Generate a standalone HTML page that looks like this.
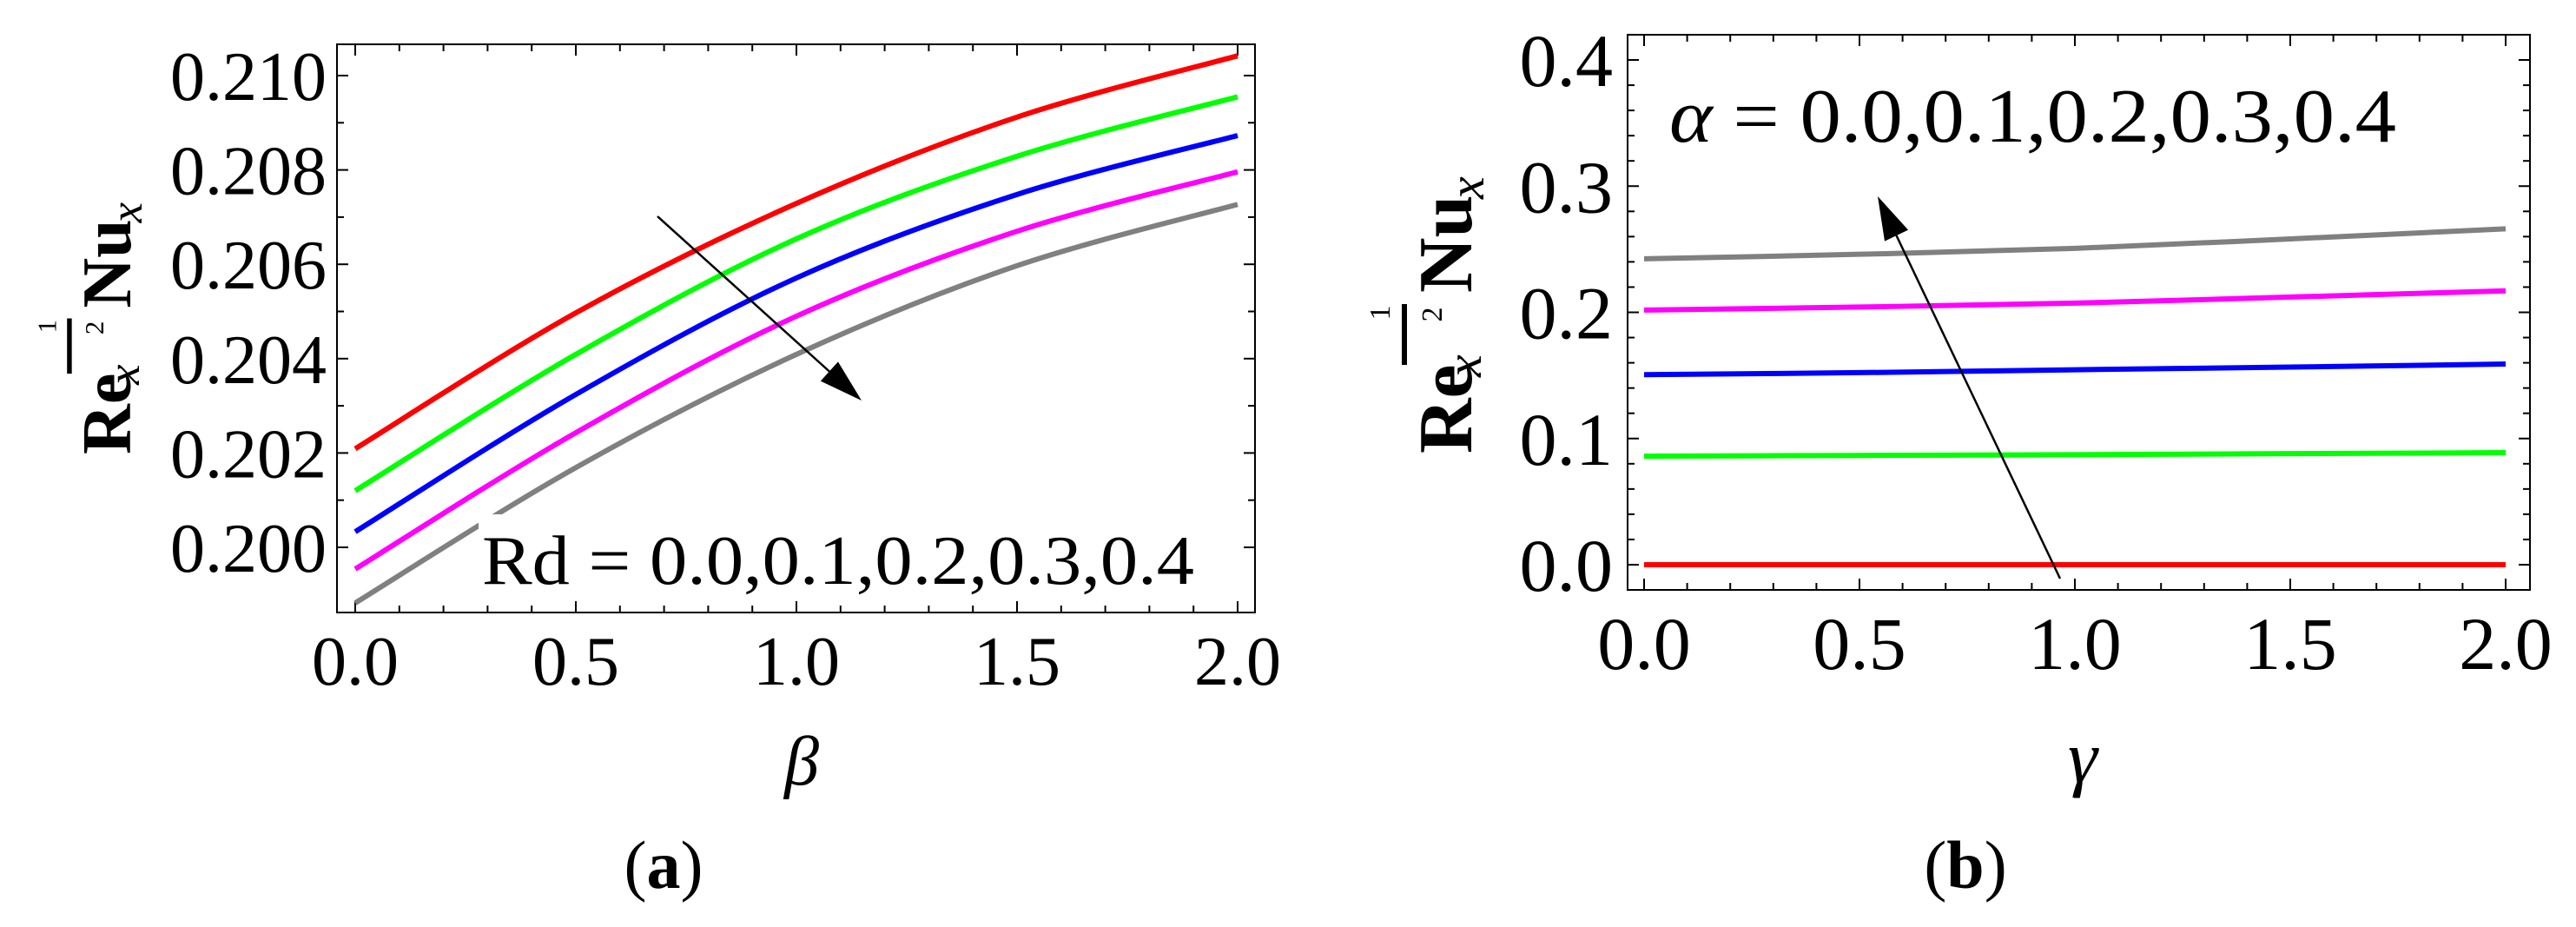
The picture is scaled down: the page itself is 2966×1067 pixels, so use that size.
<!DOCTYPE html>
<html><head><meta charset="utf-8"><style>
html,body{margin:0;padding:0;background:#fff;}
svg{display:block;}
svg text{font-family:"Liberation Serif","Times New Roman",serif;fill:#000;}
</style></head><body>
<svg id="fig" width="2966" height="1067" viewBox="0 0 2966 1067" xmlns="http://www.w3.org/2000/svg" font-family="Liberation Serif, serif">
<g id="pa"></g>
<g id="pb"></g>
</svg>
<script>
const NS="http://www.w3.org/2000/svg";
// Panel (a) data
const aX=[0,0.5,1,1.5,2];
const aRd0=[0.20209,0.20497,0.20729,0.20912,0.21042];
const aRd1=[0.20120,0.20409,0.20654,0.20829,0.20955];
const aRd2=[0.20033,0.20324,0.20571,0.20748,0.20873];
const aRd3=[0.19954,0.20243,0.20490,0.20670,0.20796];
const aRd4=[0.19882,0.20169,0.20409,0.20597,0.20727];
const aYTicks=["0.200","0.202","0.204","0.206","0.208","0.210"];
const aXTicks=["0.0","0.5","1.0","1.5","2.0"];
// Panel (b) data
const bX=[0,0.5,1,1.5,2];
const bA0=[0,0,0,0,0];
const bA1=[0.0860,0.0866,0.0872,0.0880,0.0888];
const bA2=[0.1506,0.1522,0.1545,0.1566,0.1590];
const bA3=[0.2018,0.2042,0.2073,0.2121,0.2170];
const bA4=[0.2424,0.2460,0.2507,0.2582,0.2662];
const bYTicks=["0.0","0.1","0.2","0.3","0.4"];
const bXTicks=["0.0","0.5","1.0","1.5","2.0"];
const colors=["#ff0000","#00ff00","#0000ff","#ff00ff","#808080"];
const FONT="Liberation Serif, Times New Roman, serif";

function el(tag,attrs,parent){const e=document.createElementNS(NS,tag);for(const k in attrs)e.setAttribute(k,attrs[k]);if(tag==='text')e.setAttribute('font-family',FONT);parent.appendChild(e);return e;}

function panel(g,cfg){
  const sx=v=>cfg.x0+(v-cfg.xmin)/(cfg.xmax-cfg.xmin)*(cfg.x1-cfg.x0);
  const sy=v=>cfg.y0+(v-cfg.ymin)/(cfg.ymax-cfg.ymin)*(cfg.y1-cfg.y0);
  const F=cfg.frame;
  for(let i=0;;i++){const v=cfg.xmin+i*cfg.xminor; if(v>cfg.xmax+1e-9)break;
    const major=Math.abs(v/cfg.xmajor-Math.round(v/cfg.xmajor))<1e-6; const L=major?13:8; const X=sx(v);
    const t1=el('line',{x1:X,x2:X,y1:F.b,y2:F.b-L,stroke:'#000','stroke-width':2},g);
    
    
    const t2=el('line',{x1:X,x2:X,y1:F.t,y2:F.t+L,stroke:'#000','stroke-width':2},g);
    
    
  }
  for(let i=0;;i++){const v=cfg.ymin+i*cfg.yminor; if(v>cfg.yTop+1e-9)break;
    if(v<cfg.yBot-1e-9)continue;
    const major=Math.abs(v/cfg.ymajor-Math.round(v/cfg.ymajor))<1e-6; const L=major?13:8; const Y=sy(v);
    const t1=el('line',{x1:F.l,x2:F.l+L,y1:Y,y2:Y,stroke:'#000','stroke-width':2},g);
    
    
    const t2=el('line',{x1:F.r,x2:F.r-L,y1:Y,y2:Y,stroke:'#000','stroke-width':2},g);
    
    
  }
  cfg.series.forEach((s,k)=>{
    const pts=cfg.xs.map((x,i)=>[sx(x),sy(s[i])]);
    let d='M'+pts[0][0]+','+pts[0][1];
    for(let i=0;i<pts.length-1;i++){
      const p0=pts[Math.max(0,i-1)],p1=pts[i],p2=pts[i+1],p3=pts[Math.min(pts.length-1,i+2)];
      const c1=[p1[0]+(p2[0]-p0[0])/6,p1[1]+(p2[1]-p0[1])/6];
      const c2=[p2[0]-(p3[0]-p1[0])/6,p2[1]-(p3[1]-p1[1])/6];
      d+=' C'+c1+' '+c2+' '+p2;
    }
    const p=el('path',{d:d,fill:'none',stroke:colors[k],'stroke-width':6},g);
    
    
  });
  const fr=el('rect',{x:F.l,y:F.t,width:F.r-F.l,height:F.b-F.t,fill:'none',stroke:'#000','stroke-width':2},g);
  
  
  cfg.yTickLabels.forEach(s=>{
    const t=el('text',{x:cfg.yLabX,y:sy(parseFloat(s))+cfg.yLabDy,'text-anchor':'end','font-size':cfg.fs},g);
    t.textContent=s;
    
    
  });
  cfg.xTickLabels.forEach(s=>{
    const t=el('text',{x:sx(parseFloat(s)),y:cfg.xLabY,'text-anchor':'middle','font-size':cfg.fs},g);
    t.textContent=s;
    
    
  });
}

function ylabel(g,x,y,s){
  const gg=el('g',{transform:`translate(${x},${y}) rotate(-90) scale(${s})`},g);
  
  
  const t=el('text',{x:0,y:0,'font-size':88,'font-weight':'bold'},gg);t.textContent='Re';
  const t2=el('text',{x:88,y:11,'font-size':58,'font-style':'italic'},gg);t2.textContent='x';
  el('line',{x1:102,x2:172,y1:-77,y2:-77,stroke:'#000','stroke-width':6},gg);
  const t3=el('text',{x:162,y:-94,'font-size':34,'text-anchor':'middle'},gg);t3.textContent='1';
  const t4=el('text',{x:160,y:-34,'font-size':34,'text-anchor':'middle'},gg);t4.textContent='2';
  const t5=el('text',{x:185,y:0,'font-size':88,'font-weight':'bold'},gg);t5.textContent='Nu';
  const t6=el('text',{x:293,y:14,'font-size':58,'font-style':'italic'},gg);t6.textContent='x';
}

function arrow(g,x1,y1,x2,y2,name){
  const a=Math.atan2(y2-y1,x2-x1),L=50,W=15;
  const bx=x2-L*Math.cos(a),by=y2-L*Math.sin(a);
  const l=el('line',{x1:x1,y1:y1,x2:bx,y2:by,stroke:'#000','stroke-width':2.5},g);
  
  
  const h=el('polygon',{points:`${x2},${y2} ${bx+W*Math.sin(a)},${by-W*Math.cos(a)} ${bx-W*Math.sin(a)},${by+W*Math.cos(a)}`,fill:'#000'},g);
  
  
}

const ga=document.getElementById('pa');
panel(ga,{xs:aX,series:[aRd0,aRd1,aRd2,aRd3,aRd4],x0:409,x1:1425,xmin:0,xmax:2,y0:630,y1:87,ymin:0.200,ymax:0.210,
  frame:{l:388,r:1445,t:51,b:705},xminor:0.1,xmajor:0.5,yminor:0.001,ymajor:0.002,yBot:0.1987,yTop:0.2106,
  yTickLabels:aYTicks,xTickLabels:aXTicks,yLabX:376,yLabDy:28,xLabY:788,fs:80});
const bgA=el('rect',{x:551,y:592,width:830,height:95,fill:'#fff'},ga);


const rd=el('text',{x:555,y:672,'font-size':80,textLength:820,lengthAdjust:'spacingAndGlyphs'},ga);
rd.textContent='Rd = 0.0,0.1,0.2,0.3,0.4';


arrow(ga,757,249,992,461,'trend-arrow-a');
ylabel(ga,150,523,0.91);
const beta=el('text',{x:923,y:903,'font-size':80,'font-style':'italic','text-anchor':'middle'},ga);
beta.textContent='β';
const capA=el('text',{x:764,y:1022,'font-size':78,'text-anchor':'middle'},ga);
capA.innerHTML='(<tspan font-weight="bold">a</tspan>)';


const gb=document.getElementById('pb');
panel(gb,{xs:bX,series:[bA0,bA1,bA2,bA3,bA4],x0:1893,x1:2885,xmin:0,xmax:2,y0:650,y1:69,ymin:0,ymax:0.4,
  frame:{l:1874,r:2913,t:40,b:679},xminor:0.1,xmajor:0.5,yminor:0.02,ymajor:0.1,yBot:-0.01,yTop:0.42,
  yTickLabels:bYTicks,xTickLabels:bXTicks,yLabX:1857,yLabDy:30,xLabY:770,fs:86});
const al=el('text',{x:1922,y:163,'font-size':88,textLength:837,lengthAdjust:'spacingAndGlyphs'},gb);
al.innerHTML='<tspan font-style="italic">α</tspan> = 0.0,0.1,0.2,0.3,0.4';

arrow(gb,2372,666,2162,226,'trend-arrow-b');
ylabel(gb,1694,522,1);
const gam=el('text',{x:2398,y:900,'font-size':86,'font-style':'italic','text-anchor':'middle'},gb);
gam.textContent='γ';
const capB=el('text',{x:2263,y:1022,'font-size':78,'text-anchor':'middle'},gb);
capB.innerHTML='(<tspan font-weight="bold">b</tspan>)';

</script>
</body></html>
